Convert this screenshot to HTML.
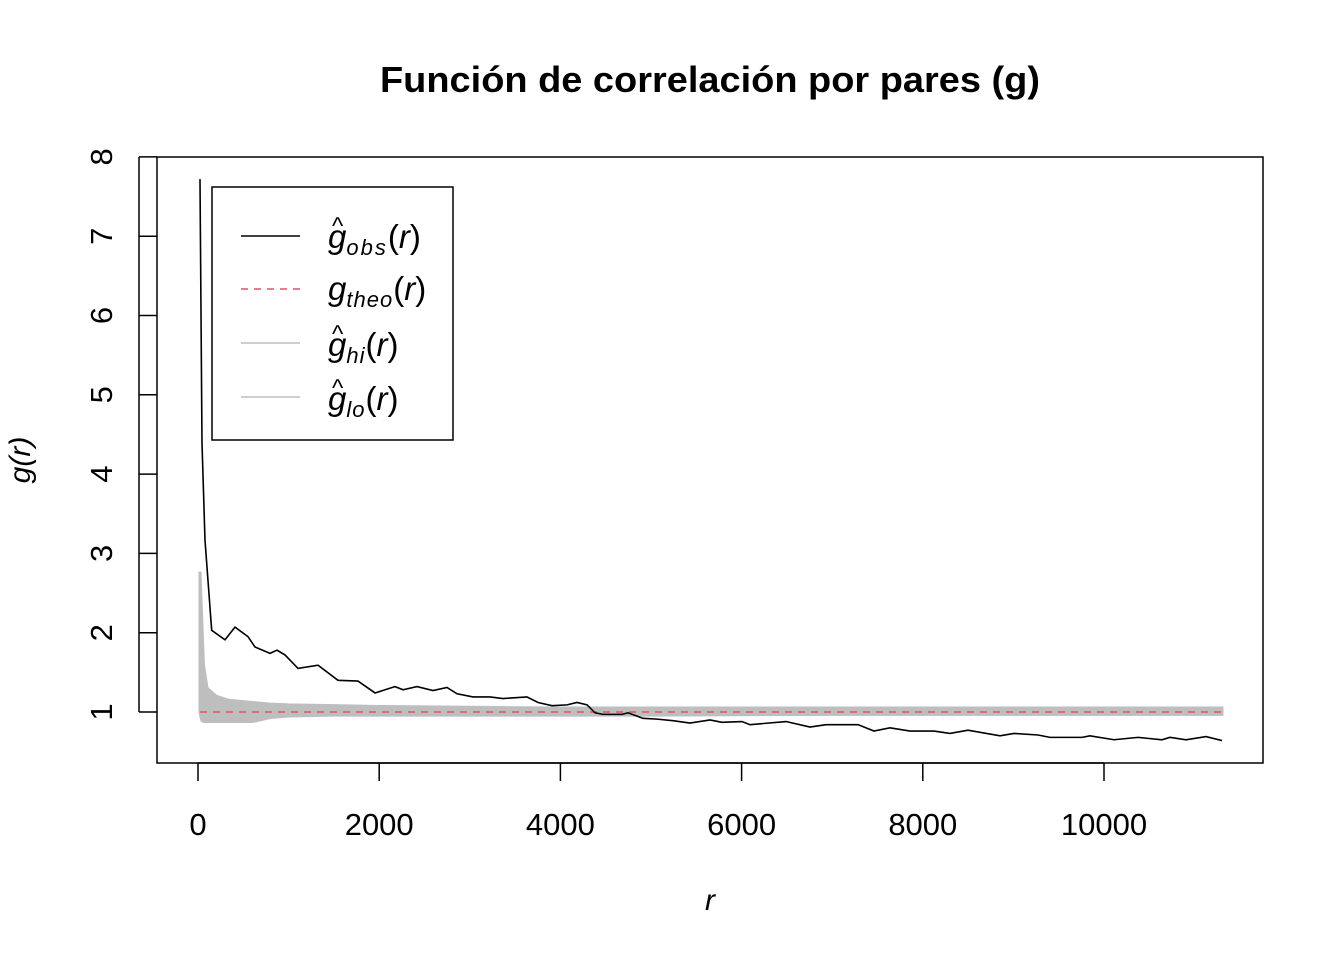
<!DOCTYPE html>
<html><head><meta charset="utf-8"><style>body{margin:0;background:#fff}svg{display:block;font-family:"Liberation Sans",sans-serif}</style></head>
<body>
<svg id="chart" width="1344" height="960" xmlns="http://www.w3.org/2000/svg">
<text x="710" y="92" font-size="36" font-weight="bold" text-anchor="middle" textLength="660" lengthAdjust="spacingAndGlyphs">Función de correlación por pares (g)</text>
<rect x="157" y="157" width="1106" height="606" fill="none" stroke="#000" stroke-width="1.5"/>
<g id="xaxis"></g>
<g id="yaxis"></g>
<g id="marks"></g>
<text x="710" y="910" font-size="30" font-style="italic" text-anchor="middle">r</text>
<text transform="translate(30,460) rotate(-90)" font-size="30" font-style="italic" text-anchor="middle">g(r)</text>
<g font-style="italic">
<rect x="212" y="187" width="241" height="253" fill="#fff" stroke="#000" stroke-width="1.5"/>
<line x1="241" y1="236" x2="300" y2="236" stroke="#000" stroke-width="1.5"/>
<text x="328" y="248" font-size="33">g<tspan font-size="22" dy="7" letter-spacing="2">obs</tspan><tspan dy="-7" font-style="normal">(</tspan>r<tspan font-style="normal">)</tspan></text>
<text x="332" y="234" font-size="24" font-style="normal">^</text>
<line x1="241" y1="289" x2="300" y2="289" stroke="#df536b" stroke-width="1.5" stroke-dasharray="7,6"/>
<text x="328" y="300" font-size="33">g<tspan font-size="22" dy="7" letter-spacing="1">theo</tspan><tspan dy="-7" font-style="normal">(</tspan>r<tspan font-style="normal">)</tspan></text>
<line x1="241" y1="343" x2="300" y2="343" stroke="#bebebe" stroke-width="1.5"/>
<text x="328" y="356" font-size="33">g<tspan font-size="22" dy="7" letter-spacing="1">hi</tspan><tspan dy="-7" font-style="normal">(</tspan>r<tspan font-style="normal">)</tspan></text>
<text x="332" y="342" font-size="24" font-style="normal">^</text>
<line x1="241" y1="397" x2="300" y2="397" stroke="#bebebe" stroke-width="1.5"/>
<text x="328" y="410" font-size="33">g<tspan font-size="22" dy="7" letter-spacing="1">lo</tspan><tspan dy="-7" font-style="normal">(</tspan>r<tspan font-style="normal">)</tspan></text>
<text x="332" y="396" font-size="24" font-style="normal">^</text>
</g>
</svg>
<script>
const xTicks=[0,2000,4000,6000,8000,10000];
const yTicks=[1,2,3,4,5,6,7,8];
const obsR=[22,44,77,151,298,408,552,629,795,872,960,1104,1325,1545,1766,1954,2174,2263,2417,2594,2748,2859,3035,3223,3366,3631,3753,3907,4073,4183,4294,4382,4470,4680,4746,4912,5066,5243,5430,5651,5784,6004,6093,6490,6755,6932,7285,7461,7638,7859,8124,8300,8499,8852,9007,9272,9404,9757,9845,10110,10375,10640,10728,10905,11126,11302];
const obsG=[7.72,4.4,3.17,2.03,1.91,2.07,1.95,1.82,1.74,1.78,1.72,1.55,1.59,1.40,1.39,1.24,1.32,1.28,1.32,1.27,1.31,1.23,1.19,1.19,1.17,1.19,1.12,1.08,1.09,1.12,1.09,0.99,0.97,0.97,0.99,0.92,0.91,0.89,0.86,0.90,0.87,0.88,0.84,0.88,0.81,0.84,0.84,0.76,0.80,0.76,0.76,0.73,0.77,0.70,0.73,0.71,0.68,0.68,0.70,0.65,0.68,0.65,0.68,0.65,0.69,0.64];
const envR=[22,40,60,100,200,330,600,800,1000,1500,2000,3000,4000,5000,7000,9000,11302];
const hiG=[2.77,2.2,1.6,1.3,1.2,1.15,1.12,1.1,1.09,1.08,1.07,1.06,1.05,1.05,1.05,1.05,1.05];
const loG=[1.0,0.9,0.88,0.88,0.88,0.88,0.88,0.93,0.95,0.96,0.96,0.96,0.96,0.96,0.97,0.97,0.97];
const theoG=1;
const X=r=>198+r*0.0906, Y=g=>712-(g-1)*79.3;
const NS='http://www.w3.org/2000/svg';
function mk(parent,tag,attrs){const e=document.createElementNS(NS,tag);for(const k in attrs)e.setAttribute(k,attrs[k]);parent.appendChild(e);return e;}
const xa=document.getElementById('xaxis'),ya=document.getElementById('yaxis'),m=document.getElementById('marks');
mk(xa,'line',{x1:X(0),x2:X(10000),y1:763,y2:763,stroke:'#000','stroke-width':1.5});
xTicks.forEach(t=>{const l=mk(xa,'line',{x1:X(t),x2:X(t),y1:763,y2:781,stroke:'#000','stroke-width':1.5});


const tx=mk(xa,'text',{x:X(t),y:835,'font-size':31,'text-anchor':'middle'});tx.textContent=t;

});
mk(ya,'line',{x1:139,x2:139,y1:Y(1),y2:Y(8),stroke:'#000','stroke-width':1.5});
yTicks.forEach(t=>{const l=mk(ya,'line',{x1:139,x2:157,y1:Y(t),y2:Y(t),stroke:'#000','stroke-width':1.5});


const tx=mk(ya,'text',{transform:`translate(112,${Y(t)}) rotate(-90)`,'font-size':31,'text-anchor':'middle'});tx.textContent=t;

});
let d='M'+envR.map((r,i)=>X(r)+','+Y(hiG[i])).join('L');
for(let i=envR.length-1;i>=0;i--)d+='L'+X(envR[i])+','+Y(loG[i]);
const env=mk(m,'path',{d:d+'Z',fill:'#bebebe',stroke:'#bebebe','stroke-width':3});


const th=mk(m,'line',{x1:X(envR[0]),x2:X(envR[envR.length-1]),y1:Y(theoG),y2:Y(theoG),stroke:'#df536b','stroke-width':1.5,'stroke-dasharray':'7,6'});


const ob=mk(m,'polyline',{points:obsR.map((r,i)=>X(r)+','+Y(obsG[i])).join(' '),fill:'none',stroke:'#000','stroke-width':1.6});


</script>
</body></html>
